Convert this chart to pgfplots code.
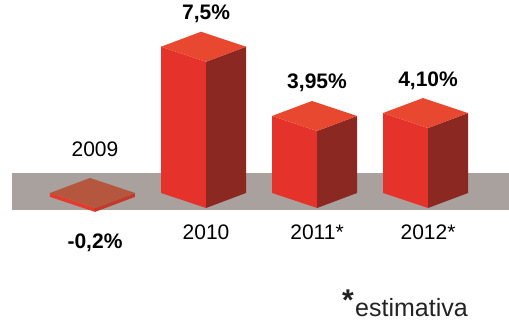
\documentclass[border=0pt]{standalone}
\usepackage{fontspec}
\setmainfont{Liberation Sans}
\usepackage{pgfplots}
\pgfplotsset{compat=1.18}
\definecolor{bandc}{HTML}{A8A19E}
\definecolor{frontc}{HTML}{E5322A}
\definecolor{sidec}{HTML}{8A2821}
\definecolor{topc}{HTML}{E84830}
\definecolor{slabtop}{HTML}{B5573F}
\definecolor{slabfront}{HTML}{E63A2C}
\definecolor{slabside}{HTML}{C23A2A}
\definecolor{txt}{HTML}{222222}
% #1 = a, #2 = a+1, #3 = base z, #4 = top z, #5 front, #6 side, #7 top
\newcommand{\cube}[7]{%
  \addplot3[draw=none, fill=#5] coordinates {(#1,#1,#3) (#2,#1,#3) (#2,#1,#4) (#1,#1,#4)};
  \addplot3[draw=none, fill=#6] coordinates {(#2,#1,#3) (#2,#2,#3) (#2,#2,#4) (#2,#1,#4)};
  \addplot3[draw=none, fill=#7] coordinates {(#1,#1,#4) (#2,#1,#4) (#2,#2,#4) (#1,#2,#4)};
}
\begin{document}
\begin{tikzpicture}
\begin{axis}[
  x={(45pt,-15pt)}, y={(40pt,15pt)}, z={(0pt,19.5pt)},
  hide axis, clip=false,
  xmin=-0.6, xmax=5.4, ymin=-0.6, ymax=5.4, zmin=-6.7, zmax=9.9,
  every node/.style={text=txt},
]
% gray band
\addplot3[draw=none, fill=bandc] coordinates {(-0.447,-0.447,-0.87) (5.4,5.4,-0.87) (5.4,5.4,1.03) (-0.447,-0.447,1.03)};
% 2009: -0.2
\cube{0}{1}{-0.2}{0}{slabfront}{slabside}{slabtop}
% 2010: 7.5
\cube{1.306}{2.306}{0}{7.5}{frontc}{sidec}{topc}
% 2011: 3.95
\cube{2.612}{3.612}{0}{3.95}{frontc}{sidec}{topc}
% 2012: 4.10
\cube{3.918}{4.918}{0}{4.10}{frontc}{sidec}{topc}

\begin{scope}[font=\fontsize{21}{25}\selectfont]
\node[anchor=base, yshift=51pt] at (axis cs:1,0,0) {2009};
\node[anchor=base, yshift=-37pt, font=\fontsize{21}{25}\selectfont\bfseries] at (axis cs:1,0,-0.2) {-0,2\%};
\node[anchor=base, yshift=-32pt] at (axis cs:2.306,1.306,0) {2010};
\node[anchor=base, yshift=-32pt] at (axis cs:3.612,2.612,0) {2011*};
\node[anchor=base, yshift=-32pt] at (axis cs:4.918,3.918,0) {2012*};
\node[anchor=base, yshift=42pt, font=\fontsize{21}{25}\selectfont\bfseries] at (axis cs:2.306,1.306,7.5) {7,5\%};
\node[anchor=base, yshift=42pt, font=\fontsize{21}{25}\selectfont\bfseries] at (axis cs:3.612,2.612,3.95) {3,95\%};
\node[anchor=base, yshift=42pt, font=\fontsize{21}{25}\selectfont\bfseries] at (axis cs:4.918,3.918,4.10) {4,10\%};
\end{scope}
\coordinate (bl) at (axis cs:-0.5882,-0.5882,-6.718);
\coordinate (tr) at (axis cs:5.4,5.4,9.897);
\end{axis}
\pgfresetboundingbox
\useasboundingbox (bl) rectangle (tr);
\node[anchor=base west, inner sep=0pt, text=txt, font=\fontsize{25}{30}\selectfont] at ([shift={(355pt,8pt)}]bl) {estimativa};
\node[inner sep=0pt, text=txt, font=\fontsize{30}{30}\selectfont\bfseries] at ([shift={(348pt,24pt)}]bl) {*};
\end{tikzpicture}
\end{document}
